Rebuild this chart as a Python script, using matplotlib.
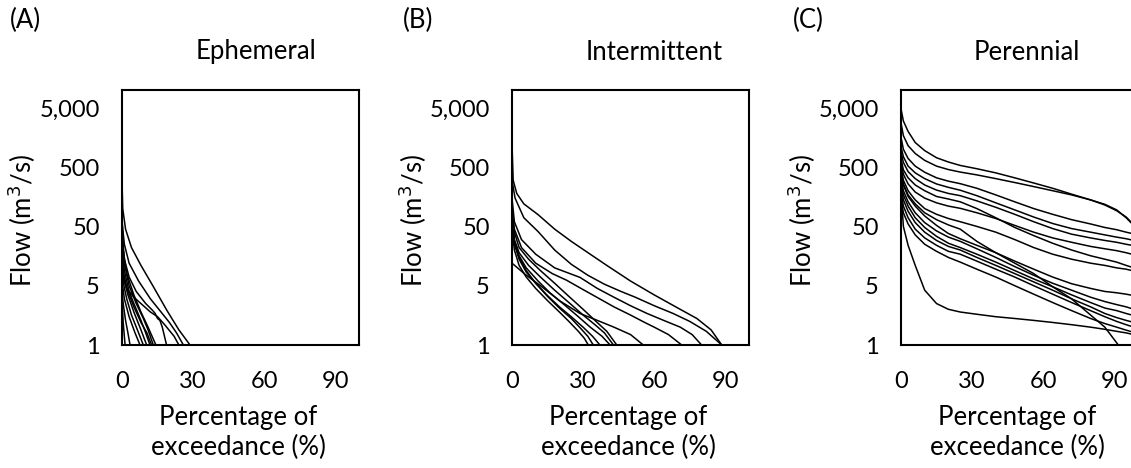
import matplotlib
matplotlib.use("Agg")
import matplotlib.pyplot as plt
from matplotlib.ticker import FixedLocator, FixedFormatter

plt.rcParams['font.family'] = ['Lato', 'DejaVu Sans']

# ---- Flow duration curves (percentage of exceedance, flow in m3/s) ----
ephemeral_x = [
    [0, 0.3, 1.5, 4, 8, 13, 19, 24, 28.7],
    [0, 1, 3, 7, 12, 16, 20, 23, 25.9],
    [0, 1, 3, 6, 10, 13, 14, 15, 16, 17, 18.8],
    [0, 1, 3, 6, 9, 11, 13.2],
    [0, 1, 3, 5, 8, 10, 11.8],
    [0, 1, 2.5, 5, 8, 10.4],
    [0, 0.8, 2, 4, 7, 9],
    [0, 1, 3, 5.5, 7.6],
    [0, 0.5, 1.5, 2.5, 3.4],
    [0, 0.5, 1.3],
    [0, 0.5, 2, 5, 8, 11, 14.3],
    [0, 0.7, 2.5, 5, 8, 10.5, 12.5],
    [0, 2, 5, 8, 12, 15, 18, 22, 24],
]
ephemeral_q = [
    [300, 100, 45, 22, 11, 5, 1.9, 0.9, 0.5],
    [60, 25, 12, 6, 3, 1.9, 1.2, 0.8, 0.5],
    [40, 14, 7, 4, 2.5, 1.9, 1.7, 1.4, 1.3, 1.0, 0.5],
    [35, 12, 5, 2.5, 1.4, 0.9, 0.5],
    [25, 9, 4, 2.5, 1.3, 0.8, 0.5],
    [15, 6, 3.5, 1.8, 0.9, 0.5],
    [10, 5, 3, 1.6, 0.8, 0.5],
    [6, 3, 1.5, 0.8, 0.5],
    [4, 2.5, 1.3, 0.8, 0.5],
    [3, 1.2, 0.5],
    [80, 20, 8, 3.5, 1.8, 1.0, 0.5],
    [20, 8, 4, 2.2, 1.2, 0.8, 0.5],
    [8, 4.5, 3.2, 2.5, 1.8, 1.5, 1.1, 0.7, 0.5],
]

intermittent_x = [
    [0, 0.5, 2, 5, 11, 18, 25, 33, 40, 50, 60, 70, 78, 84, 88.5],
    [0, 1.3, 5, 11, 18, 25, 32, 39, 46, 52, 60, 68, 75, 82, 88.5],
    [0, 1, 4, 10, 18, 28.7, 36, 43, 50, 57, 64, 71, 76, 80],
    [0, 1, 4, 10, 17, 23, 30, 37, 43, 50, 56, 60, 66, 71.6],
    [0, 5.5, 12, 20, 28.7, 36, 43, 50, 55.4],
    [0, 1, 3, 7, 12, 18, 24, 30, 35, 40, 44.2],
    [0, 1, 3, 7, 12, 18, 24, 30, 35, 39, 42.8],
    [0, 1, 3, 6, 11, 16, 22, 28, 33, 38, 41.4],
    [0, 1, 3, 6, 10, 15, 20, 25, 30, 34, 37.1],
    [0, 1, 3, 6, 10, 15, 20, 25, 29, 32, 34.3],
    [0, 1, 3, 6, 10, 15, 20, 24, 28, 30.5, 32.2],
]
intermittent_q = [
    [1200, 300, 180, 120, 79, 45, 28, 17, 11, 6, 3.5, 2.1, 1.4, 0.9, 0.5],
    [300, 150, 70, 41, 20, 11.5, 7.5, 5.3, 4, 3.2, 2.3, 1.7, 1.25, 0.85, 0.5],
    [150, 60, 30, 17, 10, 6.9, 4.5, 3.2, 2.3, 1.7, 1.3, 1.0, 0.75, 0.5],
    [90, 45, 22, 12, 8, 6.2, 4.3, 3.0, 2.2, 1.6, 1.2, 1.0, 0.75, 0.5],
    [12, 7.8, 5, 2.8, 1.7, 1.3, 1.0, 0.75, 0.5],
    [100, 40, 22, 14, 9, 5.5, 3.3, 2.0, 1.3, 0.85, 0.5],
    [70, 30, 18, 11, 7, 4.2, 2.6, 1.6, 1.1, 0.8, 0.5],
    [60, 28, 16, 10, 6, 3.8, 2.4, 1.5, 1.0, 0.7, 0.5],
    [50, 25, 14, 8.5, 5.5, 3.4, 2.2, 1.5, 1.0, 0.7, 0.5],
    [80, 28, 15, 9, 5.5, 3.3, 2.1, 1.4, 0.95, 0.7, 0.5],
    [45, 20, 11, 7, 4.5, 2.8, 1.8, 1.25, 0.85, 0.65, 0.5],
]

perennial_grid = [0, 1, 3, 6, 10, 15, 20, 25, 32, 40, 48, 56, 64, 72, 80, 86, 91, 95, 100]
perennial_x = [perennial_grid] * 15 + [
    [0, 1, 3, 6, 10, 15, 20, 25, 32, 40, 48, 56, 64, 72, 80, 86, 91.7],
]
perennial_q = [
    [4800, 3000, 2000, 1300, 950, 720, 610, 534, 470, 400, 330, 270, 220, 175, 140, 115, 92, 72, 45],
    [2800, 1700, 1150, 850, 650, 520, 455, 413, 370, 320, 275, 235, 200, 170, 140, 118, 95, 70, 44],
    [1600, 1000, 700, 520, 410, 330, 290, 263, 220, 170, 130, 100, 80, 65, 55, 48, 44, 40, 36],
    [1100, 750, 520, 400, 320, 260, 228, 204, 165, 125, 95, 72, 56, 46, 40, 36, 33, 31, 28],
    [900, 600, 420, 320, 250, 205, 180, 165, 135, 105, 80, 60, 46, 37, 32, 29, 27, 25, 23],
    [700, 450, 330, 250, 200, 160, 145, 130, 100, 70, 48, 35, 26, 20, 16, 14, 12.5, 11, 9.5],
    [600, 380, 260, 190, 150, 125, 110, 101, 85, 68, 52, 40, 32, 27, 23, 21, 19.5, 18, 16],
    [500, 300, 200, 140, 100, 80, 68, 60, 50, 40, 30, 22, 17, 14, 12, 11, 10, 9.5, 8.5],
    [400, 250, 160, 110, 75, 52, 38, 31, 24, 18, 13, 9.5, 7, 5.4, 4.5, 4.0, 3.8, 3.6, 3.3],
    [350, 200, 130, 85, 58, 42, 33, 28, 21, 15, 10.5, 7.5, 5.5, 4.2, 3.2, 2.7, 2.4, 2.2, 1.9],
    [300, 170, 110, 70, 48, 34, 26, 22, 17, 12.5, 9, 6.5, 4.8, 3.5, 2.6, 2.1, 1.9, 1.7, 1.5],
    [250, 140, 90, 58, 40, 29, 23, 20, 15, 11, 8, 5.8, 4.2, 3.0, 2.2, 1.7, 1.45, 1.3, 1.15],
    [200, 110, 70, 45, 32, 24, 19, 17, 13, 9.5, 7, 5, 3.6, 2.6, 1.9, 1.5, 1.25, 1.1, 0.95],
    [150, 85, 55, 36, 25, 19, 15, 12.5, 9.5, 7, 5, 3.6, 2.6, 1.9, 1.4, 1.15, 1.0, 0.89, 0.78],
    [200, 50, 24, 11, 4.2, 2.5, 2.0, 1.8, 1.65, 1.5, 1.4, 1.3, 1.2, 1.1, 1.0, 0.92, 0.85, 0.8, 0.72],
    [450, 260, 170, 120, 85, 65, 53, 45, 28, 18, 12, 8, 4.8, 3.0, 1.6, 1.0, 0.5],
]

panel_tags = ["(A)", "(B)", "(C)"]
panel_titles = ["Ephemeral", "Intermittent", "Perennial"]
flow_ticks = [0.5, 5, 50, 500, 5000]
flow_tick_labels = ["1", "5", "50", "500", "5,000"]
pct_ticks = [0, 30, 60, 90]
pct_tick_labels = ["0", "30", "60", "90"]

W, H = 1131, 468
fig = plt.figure(figsize=(W / 100, H / 100), dpi=100)

FS_TICK = 17
FS_TEXT = 18.5
ax_left_px = [122, 512, 901]
ax_w_px, ax_top_px, ax_bot_px = 237, 90, 345
title_cx_px = [256, 654, 1027]
tag_x_px = [10, 403, 793]
ylabel_cx_px = [22, 413, 802]

panels = [
    (ephemeral_x, ephemeral_q),
    (intermittent_x, intermittent_q),
    (perennial_x, perennial_q),
]

for i, (xs, qs) in enumerate(panels):
    ax = fig.add_axes([ax_left_px[i] / W, (H - ax_bot_px) / H,
                       ax_w_px / W, (ax_bot_px - ax_top_px) / H])
    for x, q in zip(xs, qs):
        ax.plot(x, q, color="black", lw=1.1, solid_capstyle="butt")
    ax.set_yscale("log")
    ax.set_ylim(0.5, 10000)
    ax.set_xlim(0, 100)
    ax.yaxis.set_major_locator(FixedLocator(flow_ticks))
    ax.yaxis.set_major_formatter(FixedFormatter(flow_tick_labels))
    ax.yaxis.set_minor_locator(FixedLocator([]))
    ax.set_xticks(pct_ticks)
    ax.set_xticklabels(pct_tick_labels)
    ax.tick_params(axis="both", length=0, labelsize=FS_TICK, colors="black")
    ax.tick_params(axis="y", pad=16)
    ax.tick_params(axis="x", pad=19)
    for s in ax.spines.values():
        s.set_linewidth(1.5)
        s.set_color("black")
    ax.set_ylabel("Flow (m$^3$/s)", fontsize=FS_TEXT, va="center")
    ax.yaxis.set_label_coords((ylabel_cx_px[i] - ax_left_px[i]) / ax_w_px, 0.49)
    ax.set_xlabel("Percentage of\nexceedance (%)", fontsize=FS_TEXT,
                  linespacing=1.25, va="top")
    ax.xaxis.set_label_coords(0.49, -(405 - ax_bot_px) / (ax_bot_px - ax_top_px))
    fig.text(title_cx_px[i] / W, 1 - 52 / H, panel_titles[i], fontsize=FS_TEXT,
             ha="center", va="center")
    fig.text(tag_x_px[i] / W, 1 - 20 / H, panel_tags[i], fontsize=FS_TEXT,
             ha="left", va="center")

fig.savefig("out.png", dpi=100)
